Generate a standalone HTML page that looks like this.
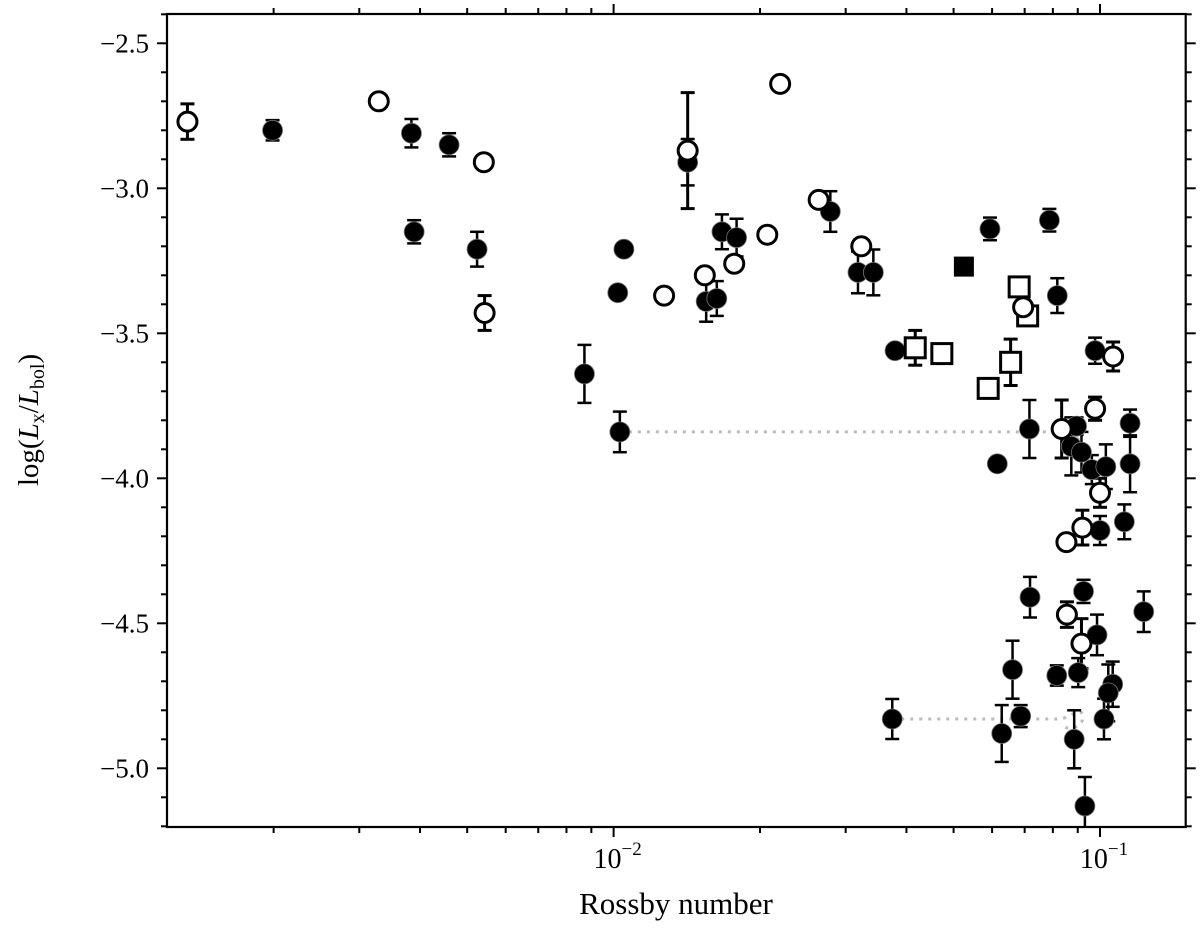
<!DOCTYPE html>
<html><head><meta charset="utf-8"><style>
html,body{margin:0;padding:0;background:#fff;}
svg{display:block;font-family:"Liberation Serif",serif;}
</style></head><body>
<svg id="chart" width="1200" height="944" viewBox="0 0 1200 944" xmlns="http://www.w3.org/2000/svg">
<defs><clipPath id="plotclip"><rect x="167" y="14" width="1018.7" height="813"/></clipPath></defs>
<g id="grid-ticks"></g>
<g clip-path="url(#plotclip)">
<g id="connectors"></g>
<g id="errs"></g>
<g id="marks"></g>
</g>
<rect x="167" y="14" width="1018.7" height="813" fill="none" stroke="#000" stroke-width="2.2"/>
<g id="labels"></g>
<text x="676" y="914" font-size="31" text-anchor="middle">Rossby number</text>
<text transform="translate(38,420) rotate(-90)" font-size="29" text-anchor="middle">log(<tspan font-style="italic">L</tspan><tspan font-size="20" dy="6">x</tspan><tspan dy="-6">/</tspan><tspan font-style="italic">L</tspan><tspan font-size="20" dy="6">bol</tspan><tspan dy="-6">)</tspan></text>
</svg>
<script>
// ---- data ----
const filledRo  = [0.00199,0.00384,0.00459,0.00389,0.00524,0.0142,0.0105,0.0102,0.0155,0.0163,0.0167,0.0179,0.0279,0.0318,0.0342,0.0379,0.00871,0.0103,0.0594,0.0787,0.0817,0.0977,0.0716,0.0615,0.0895,0.0873,0.0916,0.0962,0.1028,0.1153,0.1153,0.1000,0.1122,0.0718,0.0925,0.1230,0.0986,0.0661,0.0815,0.0902,0.1062,0.1040,0.0687,0.0628,0.1019,0.0885,0.0931,0.0374];
const filledLx  = [-2.80,-2.81,-2.85,-3.15,-3.21,-2.91,-3.21,-3.36,-3.39,-3.38,-3.15,-3.17,-3.08,-3.29,-3.29,-3.56,-3.64,-3.84,-3.14,-3.11,-3.37,-3.56,-3.83,-3.95,-3.82,-3.89,-3.91,-3.97,-3.96,-3.81,-3.95,-4.18,-4.15,-4.41,-4.39,-4.46,-4.54,-4.66,-4.68,-4.67,-4.71,-4.74,-4.82,-4.88,-4.83,-4.90,-5.13,-4.83];
const filledErr = [0.035,0.049,0.04,0.04,0.06,0.08,0,0,0.07,0.06,0.06,0.065,0.07,0.072,0.079,0,0.1,0.07,0.039,0.039,0.06,0.045,0.1,0,0.03,0.1,0.07,0.05,0.077,0.047,0.098,0.05,0.06,0.07,0.04,0.07,0.07,0.1,0.035,0.05,0.078,0.098,0.038,0.098,0.07,0.1,0.1,0.069];
const openRo  = [0.00133,0.00329,0.00541,0.00543,0.0220,0.0142,0.0127,0.0154,0.0177,0.0207,0.0264,0.0323,0.0695,0.1064,0.0834,0.0977,0.1000,0.0920,0.0853,0.0855,0.0916];
const openLx  = [-2.77,-2.70,-2.91,-3.43,-2.64,-2.87,-3.37,-3.30,-3.26,-3.16,-3.04,-3.20,-3.41,-3.58,-3.83,-3.76,-4.05,-4.17,-4.22,-4.47,-4.57];
const openErr = [0.061,0,0,0.06,0,0.2,0,0,0,0,0,0,0,0.05,0.1,0.04,0.05,0.06,0,0.044,0.086];
const sqRo  = [0.0682,0.0710,0.0655,0.0417,0.0473,0.0589];
const sqLx  = [-3.34,-3.44,-3.60,-3.55,-3.57,-3.69];
const sqErr = [0,0,0.08,0.06,0,0];
const fsqRo = [0.0525];
const fsqLx = [-3.27];
const yTicks = [-2.5,-3.0,-3.5,-4.0,-4.5,-5.0];
const yTickLabels = ["\u22122.5","\u22123.0","\u22123.5","\u22124.0","\u22124.5","\u22125.0"];
const xTicks = [0.01,0.1];
const xTickLabels = ["\u22122","\u22121"];
const linkRo = [[0.0103,0.0830],[0.0374,0.0830]];
const linkLx = [-3.84,-4.83];

// ---- axes ----
const X0=167, X1=1185.7, Y0=14, Y1=827;
const x = r => 1100 + (Math.log10(r) + 1) * 486.4;
const y = v => 43.3 + (-2.5 - v) * 290;
const NS="http://www.w3.org/2000/svg";
function mk(tag, parent, attrs){const e=document.createElementNS(NS,tag);for(const k in attrs)e.setAttribute(k,attrs[k]);parent.appendChild(e);return e;}
const gT=document.getElementById('grid-ticks'), gL=document.getElementById('labels'),
      gE=document.getElementById('errs'), gM=document.getElementById('marks'), gC=document.getElementById('connectors');

for(let v=-2.4; v>=-5.2; v-=0.1){
  const vv=Math.round(v*10)/10; const yy=y(vv);
  if(yy<Y0||yy>Y1) continue;
  const major = Math.abs(vv*2-Math.round(vv*2))<1e-6;
  const L = major?10:6;
  const t1=mk('line',gT,{x1:X0-L,x2:X0,y1:yy,y2:yy,stroke:'#000','stroke-width':2});
  
  
  const t2=mk('line',gT,{x1:X1,x2:X1+L,y1:yy,y2:yy,stroke:'#000','stroke-width':2});
  
  
}
yTicks.forEach((v,i)=>{
  const t=mk('text',gL,{x:X0-18,y:y(v)+9,'font-size':27,'text-anchor':'end'});
  t.textContent=yTickLabels[i];
  
  
});
for(let d=-3; d<=-1; d++){
  for(let m=1; m<=9; m++){
    const r=m*Math.pow(10,d); const xx=x(r);
    if(xx<X0||xx>X1) continue;
    const L = m===1?10:6;
    const b=mk('line',gT,{x1:xx,x2:xx,y1:Y1,y2:Y1+L,stroke:'#000','stroke-width':2});
    
    
    const t=mk('line',gT,{x1:xx,x2:xx,y1:Y0-L,y2:Y0,stroke:'#000','stroke-width':2});
    
    
  }
}
xTicks.forEach((r,i)=>{
  const t=mk('text',gL,{x:x(r)+4,y:868,'font-size':28,'text-anchor':'middle'});
  
  
  const a=mk('tspan',t,{}); a.textContent='10';
  const b=mk('tspan',t,{'font-size':19,dy:-13}); b.textContent=xTickLabels[i];
});

linkRo.forEach((pr,i)=>{
  const xa=x(pr[0]), xb=x(pr[1]), yy=y(linkLx[i]);
  const p=mk('path',gC,{d:`M${xa},${yy} L${xb},${yy} C${xb+10},${yy-2} ${xb+20},${yy-12} ${xb+22},${yy-4} C${xb+24},${yy+6} ${xb+12},${yy+12} ${xb+4},${yy+8}`,fill:'none',stroke:'#bbb','stroke-width':3,'stroke-dasharray':'3,6'});
  
  
});

function errbar(cx,v,e,w){
  if(!e) return;
  const ya=y(v+e), yb=y(v-e);
  const g=mk('g',gE,{stroke:'#000','stroke-width':w});
  
  
  mk('line',g,{x1:cx,x2:cx,y1:ya,y2:yb});
  mk('line',g,{x1:cx-7,x2:cx+7,y1:ya,y2:ya});
  mk('line',g,{x1:cx-7,x2:cx+7,y1:yb,y2:yb});
}
filledRo.forEach((r,i)=>errbar(x(r),filledLx[i],filledErr[i],2.5));
openRo.forEach((r,i)=>errbar(x(r),openLx[i],openErr[i],3));
sqRo.forEach((r,i)=>errbar(x(r),sqLx[i],sqErr[i],3));

filledRo.forEach((r,i)=>{
  const c=mk('circle',gM,{cx:x(r),cy:y(filledLx[i]),r:10,fill:'#000',stroke:'#777','stroke-width':0.8});
  
  
});
fsqRo.forEach((r,i)=>{
  const s=mk('rect',gM,{x:x(r)-10,y:y(fsqLx[i])-10,width:20,height:20,fill:'#000'});
  
  
});
sqRo.forEach((r,i)=>{
  const s=mk('rect',gM,{x:x(r)-10,y:y(sqLx[i])-10,width:20,height:20,fill:'#fff',stroke:'#000','stroke-width':3});
  
  
});
openRo.forEach((r,i)=>{
  const c=mk('circle',gM,{cx:x(r),cy:y(openLx[i]),r:9.5,fill:'#fff',stroke:'#000','stroke-width':3});
  
  
});
</script>
</body></html>
